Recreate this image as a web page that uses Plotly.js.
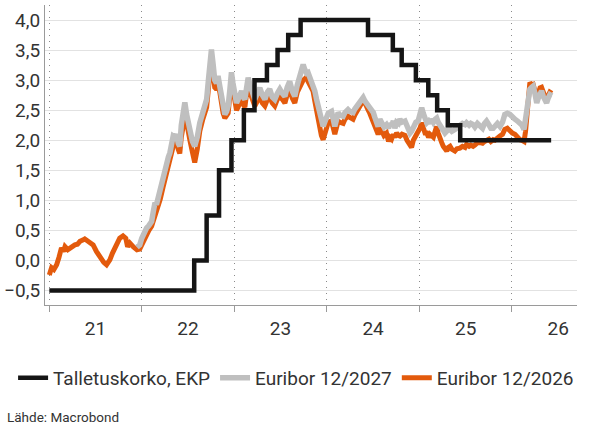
<!DOCTYPE html>
<html>
<head>
<meta charset="utf-8">
<script src="https://cdn.plot.ly/plotly-3.0.1.min.js"></script>
<style>html,body{margin:0;padding:0;background:#fff;}#chart{width:592px;height:427px;}</style>
</head>
<body>
<div id="chart"></div>
<script>
// ECB deposit rate (step changes, effective dates)
const ecbDates = ['2021-01-01','2022-07-27','2022-09-14','2022-11-02','2022-12-21','2023-02-08','2023-03-22','2023-05-10','2023-06-21','2023-08-02','2023-09-20','2024-06-12','2024-09-18','2024-10-23','2024-12-18','2025-02-05','2025-03-12','2025-04-23','2025-06-11','2026-06-05'];
const ecbRates = [-0.5,0.0,0.75,1.5,2.0,2.5,3.0,3.25,3.5,3.75,4.0,3.75,3.5,3.25,3.0,2.75,2.5,2.25,2.0,2.0];

// Euribor 12/2026 early part (decimal years) before the 12/2027 contract starts
const orangeEarlyYears = [2021.000,2021.026,2021.051,2021.080,2021.105,2021.134,2021.154,2021.170,2021.202,2021.242,2021.278,2021.305,2021.332,2021.364,2021.386,2021.413,2021.440,2021.476,2021.512,2021.537,2021.566,2021.591,2021.621,2021.656,2021.683,2021.710,2021.737,2021.764,2021.800,2021.829,2021.848,2021.872,2021.908,2021.945];
const orangeEarlyValues = [-0.24,-0.12,-0.15,-0.07,0.05,0.21,0.15,0.23,0.18,0.23,0.26,0.27,0.32,0.34,0.36,0.33,0.29,0.26,0.15,0.08,0.01,-0.03,-0.07,0.01,0.12,0.21,0.30,0.37,0.41,0.37,0.23,0.29,0.23,0.18];

// Common time grid for both contracts (decimal years)
const curveYears = [2021.948,2021.980,2022.000,2022.024,2022.053,2022.078,2022.107,2022.126,2022.143,2022.161,2022.178,2022.202,2022.232,2022.251,2022.269,2022.289,2022.305,2022.326,2022.341,2022.359,2022.377,2022.397,2022.413,2022.429,2022.449,2022.467,2022.485,2022.505,2022.521,2022.548,2022.575,2022.602,2022.629,2022.662,2022.702,2022.721,2022.737,2022.756,2022.773,2022.791,2022.810,2022.827,2022.845,2022.864,2022.881,2022.899,2022.918,2022.935,2022.954,2022.972,2022.989,2023.008,2023.026,2023.043,2023.062,2023.080,2023.097,2023.116,2023.134,2023.151,2023.170,2023.188,2023.205,2023.224,2023.251,2023.278,2023.305,2023.332,2023.359,2023.386,2023.413,2023.440,2023.467,2023.494,2023.521,2023.548,2023.575,2023.602,2023.629,2023.656,2023.683,2023.710,2023.728,2023.746,2023.764,2023.783,2023.800,2023.818,2023.854,2023.872,2023.891,2023.908,2023.926,2023.945,2023.962,2023.980,2023.999,2024.018,2024.053,2024.070,2024.089,2024.107,2024.124,2024.143,2024.178,2024.197,2024.232,2024.251,2024.286,2024.305,2024.341,2024.370,2024.395,2024.413,2024.431,2024.449,2024.467,2024.503,2024.521,2024.557,2024.575,2024.597,2024.618,2024.647,2024.667,2024.683,2024.701,2024.719,2024.737,2024.755,2024.775,2024.791,2024.813,2024.845,2024.867,2024.899,2024.918,2024.935,2024.964,2024.989,2025.008,2025.026,2025.043,2025.062,2025.080,2025.099,2025.116,2025.134,2025.151,2025.170,2025.188,2025.205,2025.224,2025.242,2025.259,2025.278,2025.296,2025.313,2025.332,2025.353,2025.386,2025.407,2025.440,2025.467,2025.494,2025.512,2025.537,2025.558,2025.583,2025.602,2025.629,2025.656,2025.683,2025.705,2025.728,2025.753,2025.775,2025.800,2025.818,2025.845,2025.872,2025.899,2025.926,2025.953,2025.980,2026.007,2026.034,2026.061,2026.088,2026.110,2026.132,2026.148,2026.161,2026.178,2026.196,2026.215,2026.232,2026.251,2026.269,2026.286,2026.305,2026.323,2026.340,2026.359,2026.377,2026.394,2026.413,2026.435];

const euribor2027 = [0.22,0.26,0.37,0.45,0.54,0.58,0.65,0.80,0.96,0.93,1.04,1.15,1.35,1.45,1.62,1.72,1.79,1.90,2.07,2.05,2.10,1.95,1.90,2.25,2.55,2.63,2.43,2.30,2.13,1.98,1.90,2.05,2.29,2.45,2.68,3.00,3.30,3.51,3.25,3.00,2.95,3.07,2.90,2.73,2.55,2.43,2.48,2.57,2.85,3.13,2.95,2.76,2.62,2.68,2.75,2.82,2.72,2.68,2.85,3.04,2.92,2.85,2.72,2.68,2.78,2.87,2.75,2.68,2.80,2.85,2.72,2.68,2.78,2.85,2.78,2.73,2.88,2.98,2.82,2.73,2.92,3.07,3.20,3.26,3.18,3.12,3.13,3.05,2.96,2.82,2.68,2.55,2.43,2.30,2.23,2.30,2.40,2.45,2.48,2.35,2.23,2.35,2.46,2.42,2.40,2.46,2.51,2.48,2.46,2.52,2.60,2.65,2.71,2.65,2.62,2.57,2.55,2.46,2.38,2.23,2.35,2.30,2.22,2.26,2.20,2.28,2.24,2.32,2.20,2.30,2.28,2.35,2.30,2.32,2.22,2.12,2.15,2.23,2.30,2.32,2.40,2.54,2.45,2.35,2.29,2.32,2.28,2.35,2.30,2.35,2.37,2.30,2.25,2.23,2.15,2.12,2.15,2.20,2.18,2.15,2.18,2.20,2.23,2.28,2.26,2.29,2.25,2.28,2.26,2.22,2.28,2.24,2.20,2.28,2.32,2.26,2.20,2.20,2.25,2.28,2.23,2.30,2.43,2.45,2.43,2.38,2.35,2.32,2.29,2.25,2.18,2.35,2.57,2.72,2.85,2.88,2.90,2.78,2.62,2.70,2.79,2.82,2.73,2.68,2.62,2.70,2.76,2.74];

const euribor2026 = [0.18,0.19,0.26,0.36,0.45,0.50,0.57,0.65,0.76,0.80,0.87,1.02,1.22,1.35,1.50,1.62,1.70,1.80,1.90,1.95,2.00,1.85,1.78,2.05,2.23,2.40,2.30,2.18,2.00,1.80,1.63,1.85,2.15,2.35,2.55,2.85,3.15,3.38,3.10,2.88,2.85,2.95,2.80,2.60,2.45,2.37,2.40,2.45,2.75,3.02,2.85,2.65,2.50,2.55,2.62,2.70,2.60,2.55,2.75,2.92,2.80,2.72,2.60,2.57,2.65,2.75,2.62,2.57,2.68,2.72,2.62,2.57,2.68,2.73,2.68,2.62,2.76,2.85,2.70,2.62,2.80,2.90,2.98,3.00,3.02,3.05,2.98,2.92,2.82,2.65,2.48,2.35,2.20,2.08,2.01,2.10,2.22,2.30,2.32,2.22,2.10,2.22,2.32,2.30,2.28,2.35,2.40,2.38,2.35,2.42,2.50,2.60,2.66,2.62,2.58,2.50,2.45,2.32,2.25,2.10,2.18,2.15,2.08,2.12,1.98,2.05,2.02,2.10,2.05,2.12,2.08,2.07,2.10,2.08,2.00,1.90,1.88,2.00,2.08,2.12,2.20,2.29,2.22,2.12,2.12,2.05,2.10,2.07,2.05,2.15,2.23,2.12,2.00,1.96,1.90,1.85,1.82,1.88,1.90,1.85,1.82,1.86,1.87,1.90,1.88,1.93,1.90,1.92,1.90,1.92,1.96,1.96,1.95,1.98,2.01,2.02,1.98,2.01,2.00,2.05,2.07,2.10,2.18,2.20,2.15,2.12,2.10,2.05,2.01,2.00,1.98,2.15,2.40,2.70,2.96,2.92,2.93,2.82,2.68,2.78,2.87,2.88,2.78,2.72,2.68,2.75,2.80,2.78];

const seriesNames = ['Euribor 12/2026','Euribor 12/2027','Talletuskorko, EKP'];
const seriesColors = ['#e35a0c','#bfbfbf','#151515'];

function toDate(v){
  const y = Math.floor(v + 1e-9);
  const f = v - y;
  const s = Date.UTC(y,0,1), e = Date.UTC(y+1,0,1);
  return new Date(s + Math.max(0,f)*(e-s)).toISOString().slice(0,10);
}

const orangeYears = orangeEarlyYears.concat(curveYears);
const orangeValues = orangeEarlyValues.concat(euribor2026);

const FONT = 'Roboto, "Noto Sans", Arial, sans-serif';
const TXT = '#333';

const data = [
  {type:'scatter', mode:'lines', name:seriesNames[0], x:orangeYears.map(toDate), y:orangeValues,
   line:{color:seriesColors[0], width:5}, hoverinfo:'skip'},
  {type:'scatter', mode:'lines', name:seriesNames[1], x:curveYears.map(toDate), y:euribor2027,
   line:{color:seriesColors[1], width:5.5}, hoverinfo:'skip'},
  {type:'scatter', mode:'lines', name:seriesNames[2], x:ecbDates, y:ecbRates,
   line:{color:seriesColors[2], width:4.5, shape:'hv'}, hoverinfo:'skip'}
];

const layout = {
  width:592, height:427,
  margin:{l:45, r:15, t:5, b:122},
  paper_bgcolor:'#fff', plot_bgcolor:'#fff',
  separators:', ',
  font:{family:FONT, color:TXT},
  showlegend:true,
  xaxis:{
    type:'date',
    range:[toDate(2020.954), toDate(2026.705)],
    tick0:'2021-01-01', dtick:'M12',
    ticklabelmode:'period', tickformat:'%y',
    showgrid:true, gridcolor:'#8a8a8a', griddash:'1px,5px', gridwidth:1,
    showline:true, linecolor:'#9a9a9a', linewidth:1,
    ticks:'outside', ticklen:6, tickcolor:'#9a9a9a',
    tickfont:{family:FONT, size:19, color:TXT},
    zeroline:false, fixedrange:true
  },
  yaxis:{
    range:[-0.74, 4.25],
    tick0:0, dtick:0.5, tickformat:'.1f',
    showgrid:true, gridcolor:'#e2e2e2', gridwidth:1,
    showline:true, linecolor:'#9a9a9a', linewidth:1,
    ticks:'', zeroline:false,
    tickfont:{family:FONT, size:19, color:TXT},
    fixedrange:true
  },
  legend:{
    orientation:'h', traceorder:'reversed',
    x:-0.06, xanchor:'left', y:-0.243, yanchor:'middle',
    font:{family:FONT, size:19, color:TXT},
    bgcolor:'rgba(0,0,0,0)'
  },
  annotations:[{
    text:'Lähde: Macrobond', showarrow:false,
    xref:'paper', yref:'paper', x:-0.0752, xanchor:'left', y:-0.373, yanchor:'middle',
    font:{family:FONT, size:13.5, color:TXT}
  }]
};

Plotly.newPlot('chart', data, layout, {displayModeBar:false, staticPlot:true});
</script>
</body>
</html>
